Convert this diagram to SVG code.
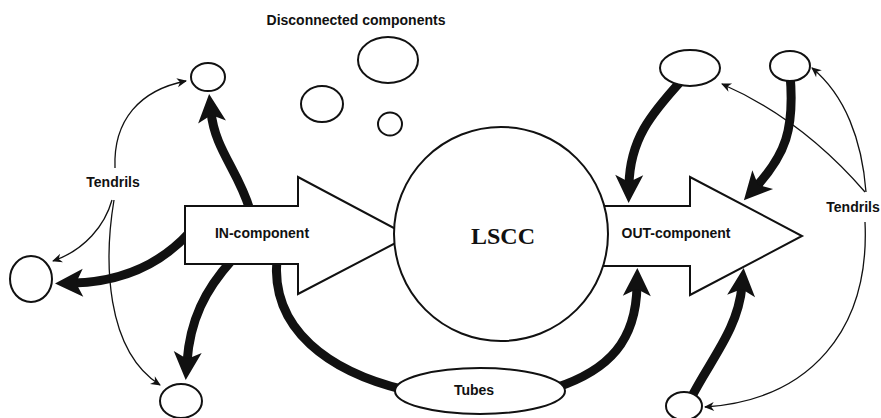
<svg xmlns="http://www.w3.org/2000/svg" width="881" height="418" viewBox="0 0 881 418">
<style>
.lbl{font-family:"Liberation Sans",Arial,sans-serif;font-weight:bold;font-size:14px;fill:#111;text-anchor:middle}
.big{font-family:"Liberation Serif","Times New Roman",serif;font-weight:bold;font-size:24px;fill:#111;text-anchor:middle}
.shape{fill:#fff;stroke:#111;stroke-width:2}
.thick{fill:none;stroke:#111;stroke-width:9}
.thin{fill:none;stroke:#111;stroke-width:1.3}
</style>
<defs>
<marker id="bigHead" markerUnits="userSpaceOnUse" markerWidth="60" markerHeight="60" viewBox="-30 -30 60 60" refX="0" refY="0" orient="auto" overflow="visible">
<path d="M18,0 L-10,-14 L-3,0 L-10,14 Z" fill="#111"/>
</marker>
<marker id="smallHead" markerUnits="userSpaceOnUse" markerWidth="20" markerHeight="20" viewBox="-10 -10 20 20" refX="0" refY="0" orient="auto" overflow="visible">
<path d="M1,0 L-9,-4.5 L-6,0 L-9,4.5 Z" fill="#111"/>
</marker>
</defs>
<rect width="881" height="418" fill="#fff"/>

<g id="connectors">
<path class="thick" d="M250,210 C238,170 215,150 211,112" marker-end="url(#bigHead)"/>
<path class="thick" d="M190,232 C160,265 120,282 73,283" marker-end="url(#bigHead)"/>
<path class="thick" d="M232,260 C205,290 190,320 187,362" marker-end="url(#bigHead)"/>
<path class="thick" d="M277,258 C270,330 330,372 405,390"/>
<path class="thick" d="M555,388 C610,370 636,340 637,286" marker-end="url(#bigHead)"/>
<path class="thick" d="M682,80 C650,115 630,140 629,185" marker-end="url(#bigHead)"/>
<path class="thick" d="M790,74 C795,130 785,155 756,187" marker-end="url(#bigHead)"/>
<path class="thick" d="M690,400 C710,360 738,330 742,286" marker-end="url(#bigHead)"/>
<path class="thin" d="M115,168 C113,120 140,90 186,81" marker-end="url(#smallHead)"/>
<path class="thin" d="M112,200 C105,225 85,250 53,261" marker-end="url(#smallHead)"/>
<path class="thin" d="M114,200 C104,260 105,350 160,385" marker-end="url(#smallHead)"/>
<path class="thin" d="M865,192 C820,140 770,105 722,84" marker-end="url(#smallHead)"/>
<path class="thin" d="M866,192 C862,140 845,95 812,68" marker-end="url(#smallHead)"/>
<path class="thin" d="M865,222 C870,330 810,400 705,407" marker-end="url(#smallHead)"/>
</g>

<g id="in-component">
<polygon class="shape" points="185,206 298,206 298,177 409,236 298,294 298,264 185,264"/>
<text class="lbl" x="262" y="238">IN-component</text>
</g>
<g id="out-component">
<polygon class="shape" points="590,206 690,206 690,177 802,236 690,295 690,266 590,266"/>
<text class="lbl" x="676" y="238">OUT-component</text>
</g>
<g id="lscc">
<circle class="shape" cx="501" cy="234" r="107"/>
<text class="big" x="503" y="244">LSCC</text>
</g>
<g id="tubes">
<ellipse class="shape" cx="480" cy="391" rx="85" ry="23"/>
<text class="lbl" x="474" y="395">Tubes</text>
</g>
<g id="disconnected">
<text class="lbl" x="356" y="25">Disconnected components</text>
<ellipse class="shape" cx="388" cy="60" rx="30" ry="23"/>
<ellipse class="shape" cx="322" cy="104" rx="21" ry="18"/>
<ellipse class="shape" cx="390" cy="124" rx="12" ry="11.5"/>
</g>
<g id="tendrils-left">
<text class="lbl" x="113" y="187">Tendrils</text>
</g>
<g id="tendrils-right">
<text class="lbl" x="853" y="212">Tendrils</text>
</g>
<g id="node-in-top"><ellipse class="shape" cx="208" cy="77" rx="17" ry="14"/></g>
<g id="node-in-left"><ellipse class="shape" cx="31" cy="279" rx="21" ry="23"/></g>
<g id="node-in-bottom"><ellipse class="shape" cx="181" cy="401" rx="21" ry="17"/></g>
<g id="node-out-top1"><ellipse class="shape" cx="690" cy="68" rx="30" ry="18"/></g>
<g id="node-out-top2"><ellipse class="shape" cx="790" cy="66" rx="20" ry="15"/></g>
<g id="node-out-bottom"><ellipse class="shape" cx="684" cy="406" rx="18" ry="14"/></g>
</svg>
